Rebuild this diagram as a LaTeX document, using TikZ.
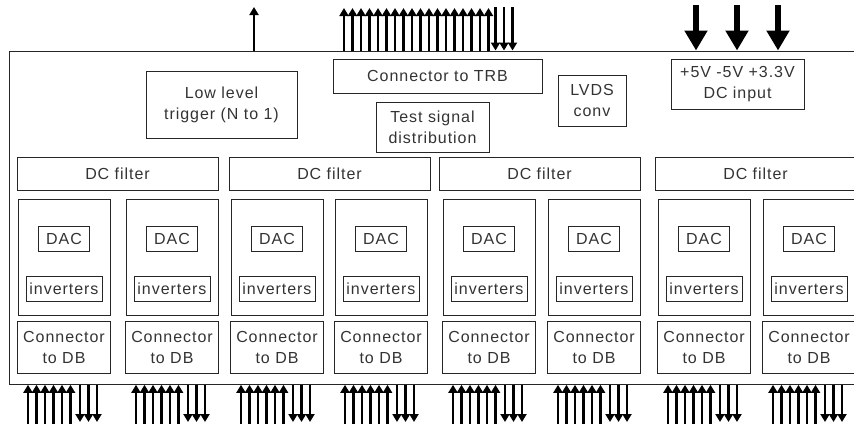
\documentclass[tikz,border=0pt]{standalone}
\usepackage{fontspec}
\setmainfont{Liberation Sans}[LetterSpace=6]
\usetikzlibrary{arrows.meta,calc}
\tikzset{
 blk/.style={draw=black!85, line width=0.8pt, inner sep=0pt, align=center, text=black!80, font=\fontsize{16}{21}\selectfont},
 sig/.style={line width=2.4pt, -{Triangle[width=9pt,length=8pt]}},
 pwr/.style={line width=5.5pt, -{Triangle[width=22pt,length=20pt]}},
}
\begin{document}
\begin{tikzpicture}[x=1pt,y=-1pt]
\useasboundingbox (0,0) rectangle (854,423);
\clip (0,0) rectangle (854,423);
\node[blk, minimum width=862, minimum height=333.5, anchor=north west] (board) at (8.5,50.5) {};

% top blocks
\node[blk, minimum width=151, minimum height=67] (trig) at (221.5,104.5) {Low level\\trigger (N to 1)};
\node[blk, minimum width=209, minimum height=34] (trb) at (437.5,76) {Connector to TRB};
\node[blk, minimum width=113, minimum height=50] (test) at (432.5,127) {Test signal\\distribution};
\node[blk, minimum width=68, minimum height=51] (lvds) at (592,100.5) {LVDS\\conv};
\node[blk, minimum width=133, minimum height=50] (dcin) at (737.5,84) {+5V -5V +3.3V\\DC input};

% DC filters
\foreach \cx [count=\i] in {117.5,329.5,539.5,755.5}
  \node[blk, minimum width=201, minimum height=33] (flt\i) at (\cx,173.5) {DC filter};

% channels
\foreach \cx [count=\i] in {64,172,277,381,489,594,704,809} {
  \node[blk, minimum width=92, minimum height=116] (col\i) at (\cx,257) {};
  \node[blk, minimum width=51, minimum height=25] (dac\i) at (\cx,238.5) {DAC};
  \node[blk, minimum width=76, minimum height=25] (inv\i) at (\cx,288.5) {inverters};
  \node[blk, minimum width=93, minimum height=52] (cdb\i) at (\cx,347) {Connector\\to DB};
  \foreach \k in {0,...,5} {
    \pgfmathsetmacro{\xx}{\cx-36+8.5*\k}
    \draw[sig] (\xx,425) -- (\xx,0 |- board.south);
  }
  \foreach \d in {16,24.5,33} {
    \pgfmathsetmacro{\xx}{\cx+\d}
    \draw[sig] (\xx,0 |- board.south) -- (\xx,422);
  }
}

% top signal arrows
\draw[sig] (254,0 |- board.north) -- (254,7);
\foreach \k in {0,...,17} {
  \pgfmathsetmacro{\xx}{344+8.5*\k}
  \draw[sig] (\xx,0 |- board.north) -- (\xx,8);
}
\foreach \xx in {495.5,504,512.5}
  \draw[sig] (\xx,7) -- (\xx,0 |- board.north);

% power inputs
\foreach \xx in {696,737,778}
  \draw[pwr] (\xx,5) -- (\xx,0 |- board.north);
\end{tikzpicture}
\end{document}
